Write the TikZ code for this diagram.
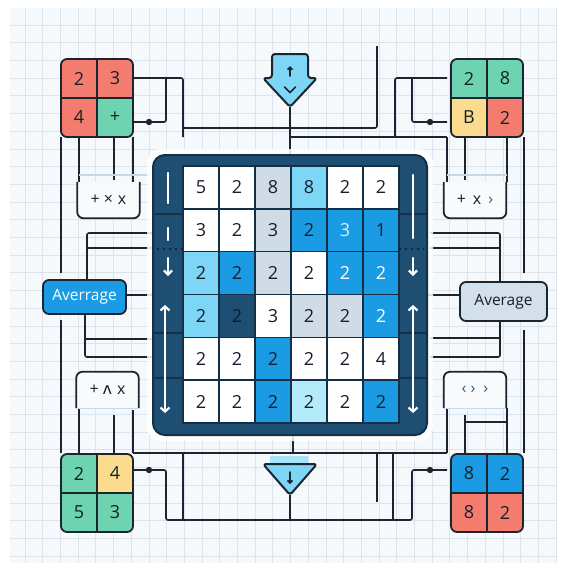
\documentclass[tikz,border=0pt]{standalone}
\usepackage{fontspec}
\setmainfont{Open Sans}
\newfontfamily\symfont{DejaVu Sans}
\usetikzlibrary{arrows.meta}
\definecolor{bgc}{HTML}{F6F9FC}
\definecolor{gridc}{HTML}{DCE5EE}
\definecolor{wirec}{HTML}{1C2430}
\definecolor{navy}{HTML}{1F4E73}
\definecolor{navyd}{HTML}{143049}
\definecolor{cw}{HTML}{FFFFFF}
\definecolor{cg}{HTML}{CFDCE6}
\definecolor{cc}{HTML}{7DD6F5}
\definecolor{cl}{HTML}{B4EBFA}
\definecolor{cb}{HTML}{1A9BE3}
\definecolor{cn}{HTML}{1F4E73}
\definecolor{td}{HTML}{16202C}
\definecolor{tw}{HTML}{FFFFFF}
\definecolor{tp}{HTML}{D4F1FF}
\definecolor{tn}{HTML}{0B1B2B}
\definecolor{qred}{HTML}{F47C6E}
\definecolor{qgreen}{HTML}{6DD3B0}
\definecolor{qyellow}{HTML}{FBDC8E}
\definecolor{qblue}{HTML}{1A9BE3}
\definecolor{arrc}{HTML}{7DD6F5}
\definecolor{lcyan}{HTML}{A6E6F8}
\definecolor{lightln}{HTML}{C5D9E8}
\definecolor{avgr}{HTML}{D3E0EA}
\definecolor{opblue}{HTML}{2B5F8A}
\definecolor{opfill}{HTML}{F8FAFC}
\newcommand\qbox[9]{%
  \begin{scope}
    \clip[rounded corners=6pt] (0,0) rectangle (72,78);
    \node[qcell, fill=#2] (#1-a) at (18,19.5) {#6};
    \node[qcell, fill=#3] (#1-b) at (54,19.5) {#7};
    \node[qcell, fill=#4] (#1-c) at (18,58.5) {#8};
    \node[qcell, fill=#5] (#1-d) at (54,58.5) {#9};
  \end{scope}
  \draw[boxline] (36,0) -- (36,78) (0,39) -- (72,39);
  \draw[boxline, rounded corners=6pt] (0,0) rectangle (72,78);
}
\begin{document}
\begin{tikzpicture}[x=1pt,y=-1pt,
  wire/.style={draw=wirec, line width=1.6pt, rounded corners=2pt},
  lightwire/.style={draw=lightln, line width=1.4pt},
  boxline/.style={draw=wirec, line width=1.8pt},
  dotst/.style={fill=wirec},
  qcell/.style={inner sep=0pt, minimum width=36pt, minimum height=39pt, text=td, font=\fontsize{18}{18}\selectfont},
  gcell/.style={draw=navyd, line width=1.4pt, inner sep=0pt, minimum width=36pt, minimum height=42.83pt, font=\fontsize{18}{18}\selectfont},
  opbox/.style={fill=opfill, inner sep=0pt, minimum width=62pt, minimum height=36pt, font=\fontsize{16}{16}\selectfont, text=td},
  markst/.style={draw=white, line width=2.2pt, line cap=round},
  imark/.style={draw=wirec, line width=1.6pt, line cap=round},
  avgbox/.style={draw=wirec, line width=1.8pt, rounded corners=6pt, inner sep=0pt, font=\fontsize{15.5}{15.5}\selectfont}
]
\useasboundingbox (0,0) rectangle (567,571);
\fill[white] (0,0) rectangle (567,571);
\fill[bgc] (10,8) rectangle (557,563);
\foreach \i in {1,...,31} {
  \draw[gridc, line width=0.8pt] ({7.3+17.7*\i},8) -- ({7.3+17.7*\i},563);
  \draw[gridc, line width=0.8pt] (10,{7.3+17.7*\i}) -- (557,{7.3+17.7*\i});
}
% ---------- wires ----------
\draw[wire] (133,78) -- (183,78) -- (183,137);
\draw[wire] (133,122) -- (166,122) -- (166,78);
\fill[dotst] (149,122) circle (3.2pt);
\draw[wire] (377,46) -- (377,128) -- (183,128);
\draw[wire] (290,137) -- (447,137);
\draw[wire] (447,78) -- (395,78) -- (395,137);
\draw[wire] (447,122) -- (412,122) -- (412,78);
\fill[dotst] (430,122) circle (3.2pt);
\draw[wire] (61,137) -- (61,273);
\draw[wire] (79,137) -- (79,182);
\draw[wire] (114,137) -- (114,180);
\draw[wire] (133,137) -- (133,182);
\draw[lightwire] (79,175) -- (150,175);
\draw[wire] (447,137) -- (447,182);
\draw[wire] (465,137) -- (465,180);
\draw[wire] (507,137) -- (507,182);
\draw[wire] (524,137) -- (524,273);
\draw[lightwire] (447,175) -- (507,175);
\draw[wire] (153,233) -- (87,233) -- (87,280);
\draw[wire] (87,248) -- (153,248);
\draw[wire] (430,233) -- (500,233) -- (500,282);
\draw[wire] (430,248) -- (500,248);
\draw[wire] (126,295) -- (153,295);
\draw[wire] (460,295) -- (427,295);
\draw[wire] (61,320) -- (61,453);
\draw[wire] (85,314) -- (85,357) -- (153,357);
\draw[wire] (85,339) -- (153,339);
\draw[wire] (500,321) -- (500,357) -- (430,357);
\draw[wire] (500,338) -- (430,338);
\draw[wire] (524,330) -- (524,453);
\draw[wire] (79,408) -- (79,453);
\draw[wire] (114,415) -- (114,453);
\draw[wire] (133,410) -- (133,453);
\draw[wire] (447,408) -- (447,453);
\draw[wire] (465,415) -- (465,453);
\draw[wire] (465,422) -- (507,422);
\draw[wire] (507,408) -- (507,453);
\draw[wire] (133,453) -- (447,453);
\draw[wire] (133,470) -- (166,470) -- (166,520) -- (412,520) -- (412,470) -- (447,470);
\fill[dotst] (149,470) circle (3.2pt);
\fill[dotst] (430,470) circle (3.2pt);
\draw[wire] (183,453) -- (183,520);
\draw[wire] (293,435) -- (293,453);
\draw[wire] (290,495) -- (290,520);
\draw[wire] (377,453) -- (377,502);
\draw[wire] (393,453) -- (393,520);
% ---------- top arrow ----------
\draw[wirec, fill=arrc, line width=2pt, rounded corners=3pt, line join=round]
  (272,54) -- (308,54) -- (308,78) -- (317,78) -- (290,107) -- (263,78) -- (272,78) -- cycle;
\coordinate (arrtip) at (290,107);
\draw[imark, -{Straight Barb[length=2.5pt]}] (290,76) -- (290,66);
\draw[imark] (284.5,87) -- (290,92.5) -- (295.5,87);
\draw[wire] (arrtip) -- (290,166);
% ---------- bottom triangle ----------
\fill[lcyan] (270,456) rectangle (308,464);
\draw[wirec, fill=arrc, line width=2pt, rounded corners=3pt, line join=round]
  (263,464) -- (317,464) -- (290,495) -- cycle;
\draw[imark, -{Straight Barb[length=2.5pt]}] (290,472) -- (290,484);
% ---------- main panel ----------
\fill[white, opacity=0.85, rounded corners=14pt] (147,149) rectangle (433,441);
\node[draw=navyd, fill=navy, line width=2pt, rounded corners=12pt, minimum width=274pt, minimum height=280pt, inner sep=0pt] (panel) at (290,295) {};
\foreach \row [count=\r] in {
  {cw/5/td, cw/2/td, cg/8/td, cc/8/td, cw/2/td, cw/2/td},
  {cw/3/td, cw/2/td, cg/3/td, cb/2/td, cb/3/tp, cb/1/td},
  {cc/2/td, cb/2/td, cg/2/td, cw/2/td, cb/2/tw, cb/2/tw},
  {cc/2/td, cn/2/tn, cw/3/td, cg/2/td, cg/2/td, cb/2/tw},
  {cw/2/td, cw/2/td, cb/2/td, cw/2/td, cw/2/td, cw/4/td},
  {cw/2/td, cw/2/td, cb/2/td, cl/2/td, cw/2/td, cb/2/td}} {
  \foreach \f/\t/\tc [count=\c] in \row {
    \node[gcell, fill=\f, text=\tc] (g-\r-\c) at ({183+36*(\c-0.5)}, {166+42.83*(\r-0.5)}) {\t};
  }
}
\draw[navyd, line width=1.4pt] (183,166) rectangle (399,423);
% strip separators
\foreach \yy in {214,333,378} {
  \draw[navyd, line width=1.4pt] (153,\yy) -- (183,\yy);
  \draw[navyd, line width=1.4pt] (399,\yy) -- (427,\yy);
}
\draw[wirec, line width=1.4pt, dash pattern=on 2pt off 4pt] (157,249) -- (183,249);
\draw[wirec, line width=1.4pt, dash pattern=on 2pt off 4pt] (399,249) -- (424,249);
% white marks
\draw[markst] (168,173) -- (168,203);
\draw[markst] (168,228) -- (168,240);
\draw[markst, -{Straight Barb[length=4pt,width=8pt]}] (168,258) -- (168,276);
\draw[markst] (413,175) -- (413,238);
\draw[markst, -{Straight Barb[length=4pt,width=8pt]}] (413,258) -- (413,276);
\draw[markst, {Straight Barb[length=4pt,width=9pt]}-{Straight Barb[length=4pt,width=9pt]}] (165,305) -- (165,413);
\draw[markst, {Straight Barb[length=4pt,width=9pt]}-{Straight Barb[length=4pt,width=9pt]}] (413,305) -- (413,413);
% ---------- quad boxes ----------
\begin{scope}[shift={(61,59)}]
  \qbox{tl}{qred}{qred}{qred}{qgreen}{2}{3}{4}{+}
\end{scope}
\begin{scope}[shift={(451,59)}]
  \qbox{tr}{qgreen}{qgreen}{qyellow}{qred}{2}{8}{B}{2}
\end{scope}
\begin{scope}[shift={(61,454)}]
  \qbox{bl}{qgreen}{qyellow}{qgreen}{qgreen}{2}{4}{5}{3}
\end{scope}
\begin{scope}[shift={(451,454)}]
  \qbox{br}{qblue}{qblue}{qred}{qred}{8}{2}{8}{2}
\end{scope}
% ---------- op boxes ----------
\node[opbox] (opTL) at (108.5,200) {+\hspace{4pt}×\hspace{5pt}x};
\draw[boxline, rounded corners=6pt] (opTL.north west) -- (opTL.south west) -- (opTL.south east) -- (opTL.north east);
\node[opbox] (opTR) at (475,200) {+\hspace{7pt}x\hspace{7pt}\textcolor{opblue}{›}};
\draw[boxline, rounded corners=6pt] (opTR.north west) -- (opTR.south west) -- (opTR.south east) -- (opTR.north east);
\node[opbox] (opBL) at (107.5,390) {+\hspace{4pt}{\symfont ʌ}\hspace{5pt}x};
\draw[boxline, rounded corners=6pt] (opBL.south west) -- (opBL.north west) -- (opBL.north east) -- (opBL.south east);
\draw[lightwire] (opBL.south west) -- (opBL.south east);
\node[opbox, text=opblue] (opBR) at (475,390) {‹\hspace{4pt}›\hspace{8pt}›};
\draw[boxline, rounded corners=6pt] (opBR.south west) -- (opBR.north west) -- (opBR.north east) -- (opBR.south east);
\draw[lightwire] (opBR.south west) -- (opBR.south east);
% ---------- average boxes ----------
\node[avgbox, fill=cb, text=white, minimum width=83pt, minimum height=34pt] (avgL) at (84.5,297) {Averrage};
\node[avgbox, fill=avgr, text=td, minimum width=87pt, minimum height=39pt] (avgR) at (503.5,301.5) {Average};
\end{tikzpicture}
\end{document}
